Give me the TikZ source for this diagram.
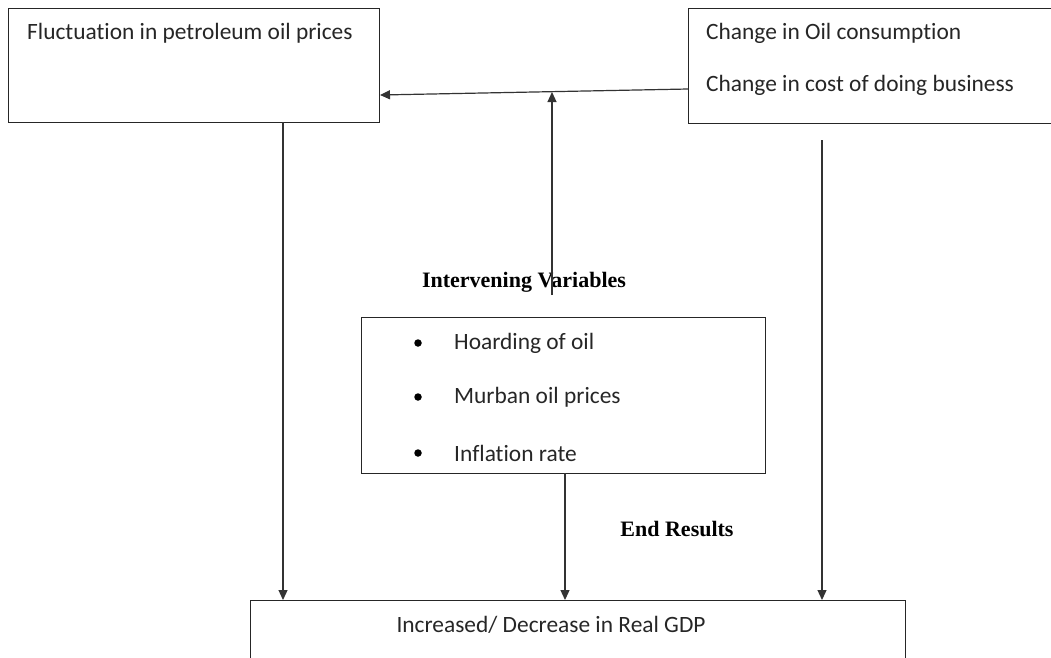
\documentclass[tikz,border=0pt]{standalone}
\usepackage{fontspec}
\setmainfont[Ligatures={CommonOff,ContextualOff}]{Carlito}
\newfontfamily\serifbold{Liberation Serif}
\usetikzlibrary{arrows.meta}
\tikzset{
  box/.style={draw=black!85, line width=1.3pt, anchor=north west, inner sep=0pt},
  lbl/.style={anchor=west, inner sep=0pt, text=black!85, font=\fontsize{23.4}{28}\selectfont},
  hdr/.style={inner sep=0pt, text=black, font=\serifbold\bfseries\fontsize{22}{26}\selectfont},
  arr/.style={draw=black!80, line width=1.2pt, -{Triangle[length=10pt,width=9pt]}},
  dot/.style={circle, fill=black, inner sep=0pt, minimum size=7.5pt}
}
\begin{document}
\begin{tikzpicture}[x=1pt,y=-1pt]
\useasboundingbox (0,0) rectangle (1051,657);
% boxes
\node[box, minimum width=371pt, minimum height=114pt] (fluct) at (8,8) {};
\node[box, minimum width=420pt, minimum height=115pt] (change) at (688,8) {};
\node[box, minimum width=404pt, minimum height=156pt] (interv) at (361,317) {};
\node[box, minimum width=655pt, minimum height=100pt] (gdp) at (250,600) {};
% texts
\node[lbl] (t1) at (27,33) {Fluctuation in petroleum oil prices};
\node[lbl] (t2) at (706,33) {Change in Oil consumption};
\node[lbl] (t3) at (706,85) {Change in cost of doing business};
\node[dot] (b1) at (418,343) {};
\node[dot] (b2) at (418,397) {};
\node[dot] (b3) at (418,453) {};
\node[lbl] (i1) at (454,343) {Hoarding of oil};
\node[lbl] (i2) at (454,397) {Murban oil prices};
\node[lbl] (i3) at (454,453) {Inflation rate};
\node[lbl, anchor=center] (t4) at (551,625) {Increased/ Decrease in Real GDP};
\node[hdr] (h1) at (524,282) {Intervening Variables};
\node[hdr] (h2) at (677,529) {End Results};
% connector points
\coordinate (hR) at (688,89);
\coordinate (hL) at (380,95);
\coordinate (vUp0) at (552,295);
\coordinate (vUp1) at (552,92);
\coordinate (dL0) at (283,122);
\coordinate (dL1) at (283,600);
\coordinate (dM0) at (565,473);
\coordinate (dM1) at (565,600);
\coordinate (dR0) at (822,140);
\coordinate (dR1) at (822,600);
% connectors
\draw[arr] (hR) -- (hL);
\draw[arr] (vUp0) -- (vUp1);
\draw[arr] (dL0) -- (dL1);
\draw[arr] (dM0) -- (dM1);
\draw[arr] (dR0) -- (dR1);
\end{tikzpicture}
\end{document}
